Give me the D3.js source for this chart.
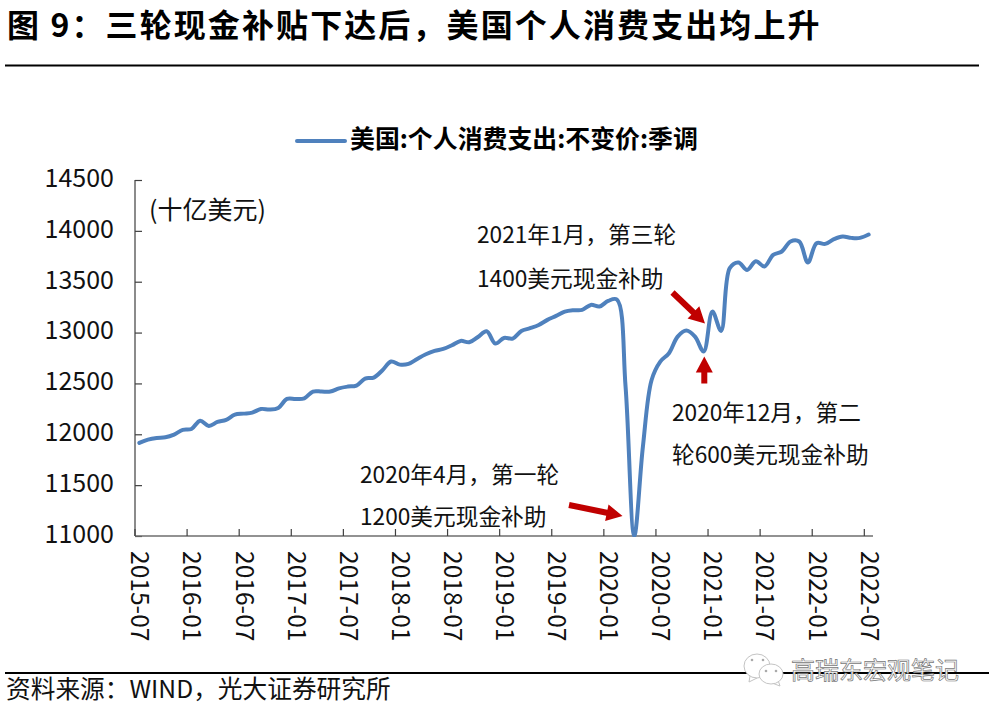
<!DOCTYPE html>
<html><head><meta charset="utf-8">
<script src="https://cdn.jsdelivr.net/npm/d3@7"></script>
<style>
html,body{margin:0;padding:0;background:#fff}
svg{display:block}
text{font-family:"Noto Sans CJK SC","Noto Sans",sans-serif;fill:#111}
</style></head><body>
<svg id="c" width="989" height="713"></svg>
<script>
const titleText = "图 9：三轮现金补贴下达后，美国个人消费支出均上升";
const legendText = "美国:个人消费支出:不变价:季调";
const unitText = "(十亿美元)";
const sourceText = "资料来源：WIND，光大证券研究所";
const watermarkText = "高瑞东宏观笔记";
const yTicks = [11000,11500,12000,12500,13000,13500,14000,14500];
const pce = [11915,11948,11964,11970,11997,12043,12052,12134,12082,12121,12141,12193,
12203,12213,12249,12243,12259,12348,12348,12354,12420,12420,12420,12452,
12469,12479,12548,12557,12630,12715,12685,12692,12741,12787,12820,12839,
12875,12918,12905,12957,13013,12892,12947,12941,13016,13043,13075,13125,
13164,13206,13220,13223,13272,13256,13311,13325,12470,11000,11880,12534,
12715,12797,12960,13020,12960,12813,13206,13016,13633,13689,13616,13702,
13650,13764,13797,13895,13895,13689,13879,13872,13918,13944,13931,13931,13964];
const months = pce.map((_, i) => {
  const m = 6 + i; // months since 2015-01
  return (2015 + Math.floor(m / 12)) + "-" + String(m % 12 + 1).padStart(2, "0");
});
const tickMonths = months.filter((_, i) => i % 6 === 0);
const notes = [
  {lines:["2021年1月，第三轮","1400美元现金补助"], x:477, ys:[243,287]},
  {lines:["2020年12月，第二","轮600美元现金补助"], x:672, ys:[421,463]},
  {lines:["2020年4月，第一轮","1200美元现金补助"], x:360, ys:[483,525]}
];
const arrows = [
  {from:[569,505], to:[622.5,516]},
  {from:[672.5,292.5], to:[705,323.5]},
  {from:[704.3,383.5], to:[704.3,356.5]}
];

const svg = d3.select("#c");
const L=135, R=873, T=180, B=536;
const x = d3.scaleBand().domain(months).range([L,R]);
const y = d3.scaleLinear().domain([11000,14500]).range([B,T]);
const cx = m => x(m) + x.bandwidth()/2;

// title + rules
svg.append("text").attr("x",7).attr("y",37).attr("font-size",32).attr("font-weight",700)
  .attr("letter-spacing",2.1).style("fill","#000").text(titleText);
svg.append("line").attr("x1",5).attr("x2",979).attr("y1",65.5).attr("y2",65.5).attr("stroke","#000").attr("stroke-width",2);
svg.append("line").attr("x1",5).attr("x2",989).attr("y1",673).attr("y2",673).attr("stroke","#000").attr("stroke-width",2);
svg.append("text").attr("x",6).attr("y",698).attr("font-size",24.7).text(sourceText);

// legend
svg.append("line").attr("x1",297).attr("x2",345).attr("y1",141).attr("y2",141).attr("stroke","#4f81bd").attr("stroke-width",4).attr("stroke-linecap","round");
svg.append("text").attr("x",350).attr("y",148).attr("font-size",24.9).attr("font-weight",700).style("fill","#000").text(legendText);

// axes
const yAxis = d3.axisLeft(y).tickValues(yTicks).tickSize(-7).tickPadding(21).tickFormat(d3.format("d"));
const gy = svg.append("g").attr("transform",`translate(${L},0)`).call(yAxis);
gy.selectAll("text").attr("font-size",25).style("font-family","'Noto Sans CJK SC'").attr("dy","0.32em").attr("y",-1.7);
const xAxis = d3.axisBottom(x).tickValues(tickMonths).tickSize(-7).tickFormat(d=>d);
const gx = svg.append("g").attr("transform",`translate(0,${B})`).call(xAxis);
gx.selectAll(".tick").attr("transform", d => `translate(${x(d)},0)`);
gx.selectAll("text")
  .attr("font-size",24.6).style("font-family","'Noto Sans CJK SC'")
  .attr("text-anchor","start").attr("dy",null)
  .attr("transform",`translate(${x.bandwidth()/2-8},15) rotate(90)`).attr("x",0).attr("y",0);
[gx,gy].forEach(g=>{g.selectAll("path.domain").attr("stroke","#6e6e6e").attr("stroke-width",1.6);
  g.selectAll("line").attr("stroke","#404040").attr("stroke-width",1.2);});
gy.select("path.domain").attr("d",`M0,${T}V${B}`);
gx.select("path.domain").attr("d",`M${L},0H${R}`);
svg.append("text").attr("x",149).attr("y",219).attr("font-size",25).text(unitText);

// line
svg.append("clipPath").attr("id","plot").append("rect").attr("x",L).attr("y",T-5).attr("width",R-L).attr("height",B-T+6);
const line = d3.line().x((d,i)=>cx(months[i])).y(d=>y(d)).curve(d3.curveCatmullRom.alpha(0.5));
svg.append("path").datum(pce).attr("d",line).attr("fill","none").attr("stroke","#4f81bd")
  .attr("stroke-width",4).attr("stroke-linejoin","round").attr("stroke-linecap","round").attr("clip-path","url(#plot)");

// notes
notes.forEach(n=>n.lines.forEach((t,i)=>{
  svg.append("text").attr("x",n.x).attr("y",n.ys[i]).attr("font-size",22.7).text(t);
}));

// arrows
arrows.forEach(a=>{
  const dx=a.to[0]-a.from[0], dy=a.to[1]-a.from[1], len=Math.hypot(dx,dy);
  const hl=16, hw=8.5, sw=3;
  const shape=[[0,-sw],[len-hl,-sw],[len-hl,-hw],[len,0],[len-hl,hw],[len-hl,sw],[0,sw]];
  svg.append("polygon").attr("points",shape.map(p=>p.join(",")).join(" "))
    .attr("fill","#c00000")
    .attr("transform",`translate(${a.from[0]},${a.from[1]}) rotate(${Math.atan2(dy,dx)*180/Math.PI})`);
});

// watermark
const w = svg.append("g").attr("fill","#fff").attr("stroke","#c4c4c4").attr("stroke-width",1);
w.append("path").attr("d","M750,676 L749,682 L757,678 Z");
w.append("ellipse").attr("cx",757).attr("cy",666).attr("rx",13).attr("ry",12);
w.append("path").attr("d","M778,680 L780,686 L772,683 Z");
w.append("ellipse").attr("cx",771).attr("cy",674).attr("rx",12).attr("ry",10);
[[752,660],[763,660],[766,671],[776,671]].forEach(p=>
  svg.append("circle").attr("cx",p[0]).attr("cy",p[1]).attr("r",1.3).attr("fill","#aaa"));
svg.append("text").attr("x",791).attr("y",679).attr("font-size",24)
  .style("fill","#fff").style("stroke","#777").style("stroke-width",0.7).text(watermarkText);
</script></body></html>
